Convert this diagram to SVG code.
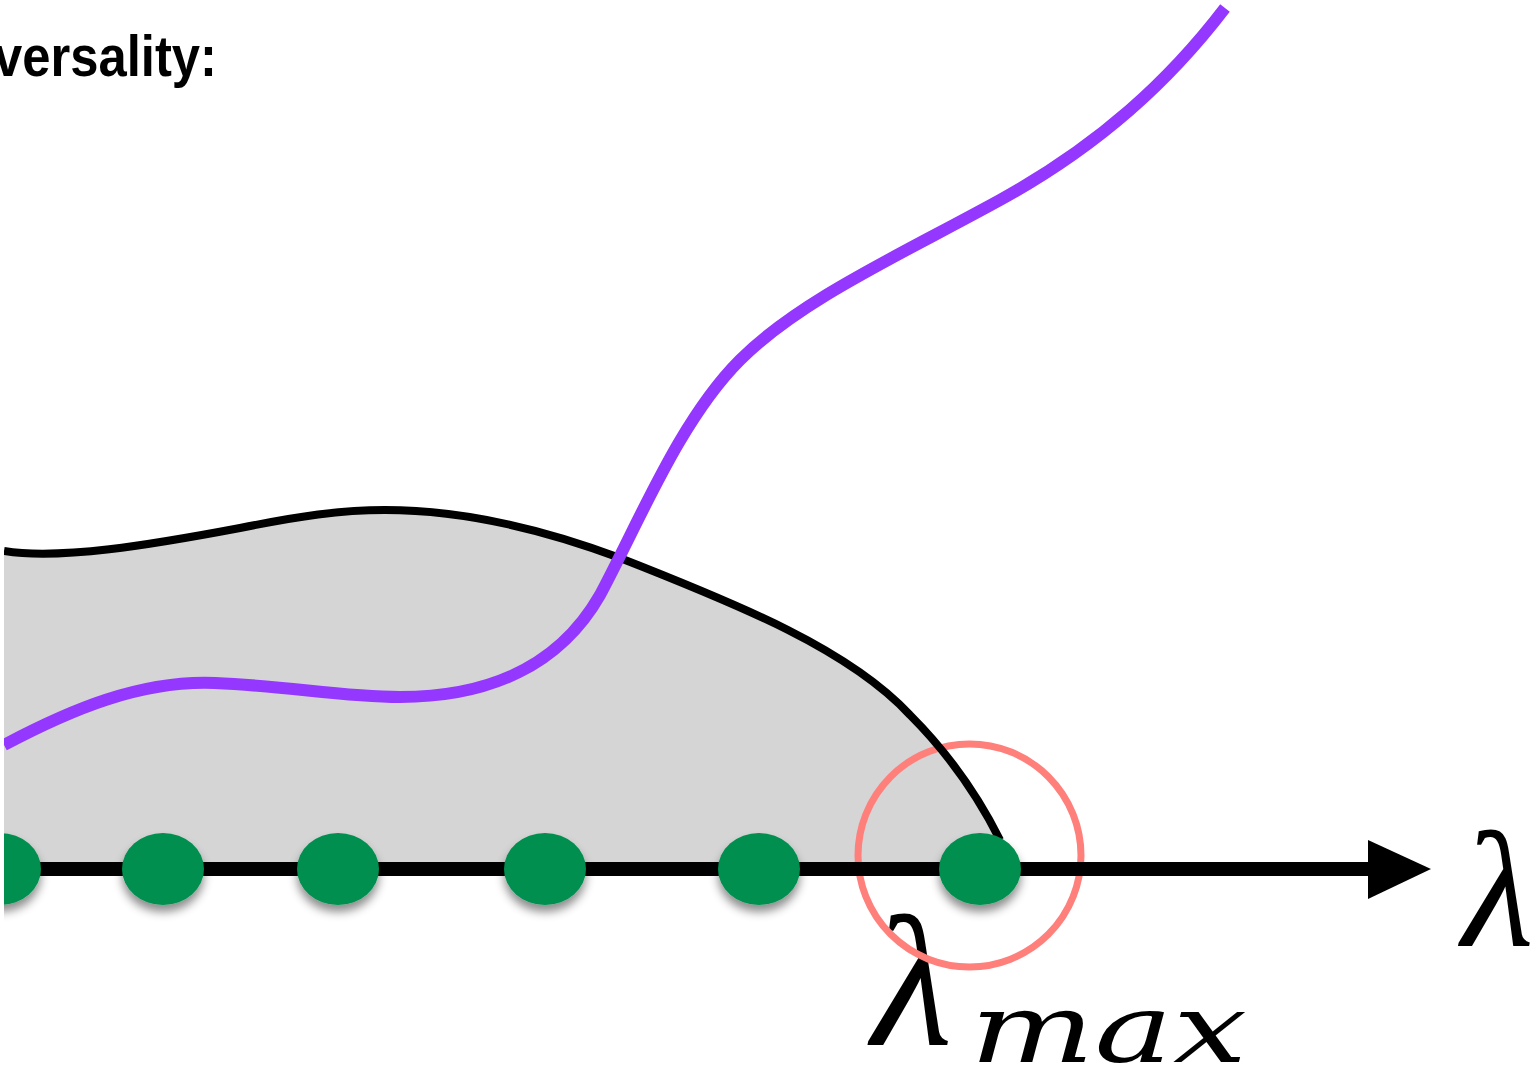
<svg xmlns="http://www.w3.org/2000/svg" width="1536" height="1076" viewBox="0 0 1536 1076">
<defs>
<clipPath id="plot"><rect x="4" y="0" width="1532" height="1076"/></clipPath>
<filter id="shadow" x="-50%" y="-50%" width="200%" height="220%">
<feDropShadow dx="0" dy="7" stdDeviation="5" flood-color="#000" flood-opacity="0.45"/>
</filter>
<style>
.dot{fill:#008F50;filter:url(#shadow)}
.math{font-family:"Liberation Serif","DejaVu Serif",serif;fill:#000}
</style>
</defs>
<rect width="1536" height="1076" fill="#fff"/>
<text id="title" x="-6" y="76" font-family="Liberation Sans, Arial, sans-serif" font-weight="bold" font-size="58" textLength="223" lengthAdjust="spacingAndGlyphs">versality:</text>
<g clip-path="url(#plot)">
<g id="region">
<path d="M4,551 C60,560 150,545 240,528 C300,516 340,510 385,510 C460,510 540,528 620,558 C740,605 850,650 910,715 C950,755 980,800 1000,840 L1000,869 L4,869 Z" fill="#D5D5D5"/>
</g>
</g>
<g id="labels">
<text id="lambda-max" class="math"><tspan x="872" y="1045" font-size="186" font-style="italic">λ</tspan><tspan x="970" y="1062" font-size="96" font-family="DejaVu Serif, serif" font-style="italic" textLength="277" lengthAdjust="spacingAndGlyphs">max</tspan></text>
<text id="lambda" class="math" x="1462" y="946" font-size="166" font-style="italic">λ</text>
</g>
<g clip-path="url(#plot)">
<g id="ring"><circle cx="969.5" cy="855.5" r="111.5" fill="none" stroke="#FF7F7B" stroke-width="7"/></g>
<g id="connectors">
<path id="boundary" d="M4,551 C60,560 150,545 240,528 C300,516 340,510 385,510 C460,510 540,528 620,558 C740,605 850,650 910,715 C950,755 980,800 1000,840" fill="none" stroke="#000" stroke-width="8"/>
<path id="trajectory" d="M4,745 C70,710 140,680 215,683 S340,697 400,697 C490,697 560,665 600,595 C640,520 680,420 740,360 C800,300 900,255 1000,200 C1100,145 1170,80 1225,8" fill="none" stroke="#9437FF" stroke-width="12"/>
<line id="axis" x1="4" y1="869" x2="1372" y2="869" stroke="#000" stroke-width="14"/>
<polygon id="arrowhead" points="1368,840 1431,869 1368,899" fill="#000"/>
</g>
<g id="dots">
<ellipse id="dot1" class="dot" cx="0" cy="869" rx="41" ry="36"/>
<ellipse id="dot2" class="dot" cx="163" cy="869" rx="41" ry="36"/>
<ellipse id="dot3" class="dot" cx="338" cy="869" rx="41" ry="36"/>
<ellipse id="dot4" class="dot" cx="545" cy="869" rx="41" ry="36"/>
<ellipse id="dot5" class="dot" cx="759" cy="869" rx="41" ry="36"/>
<ellipse id="dot6" class="dot" cx="980" cy="869" rx="41" ry="36"/>
</g>
</g>
</svg>
